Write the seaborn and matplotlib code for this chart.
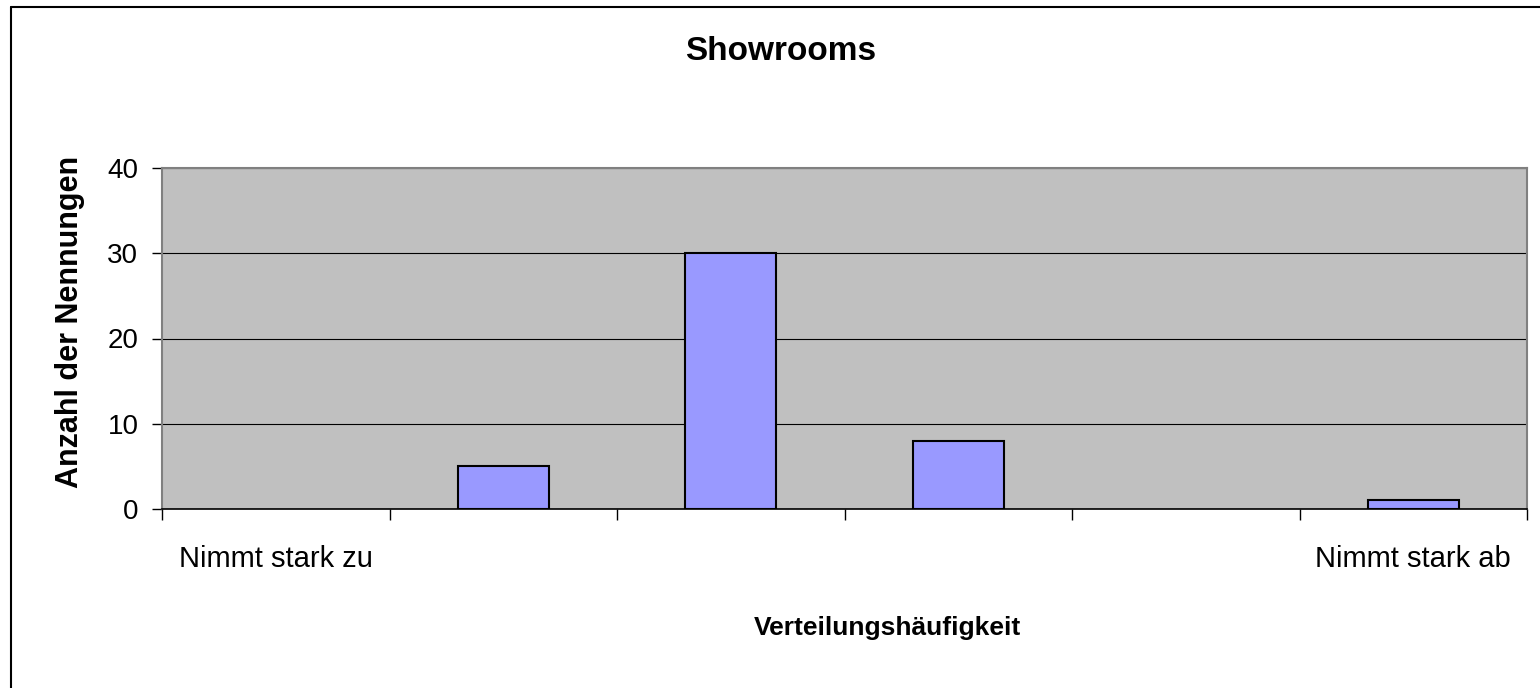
import matplotlib
matplotlib.use("Agg")
import matplotlib.pyplot as plt
import seaborn as sns
import pandas as pd
from matplotlib.lines import Line2D
from matplotlib.ticker import FixedLocator

categories = ["Nimmt stark zu", "2", "3", "4", "5", "Nimmt stark ab"]
tick_labels = ["Nimmt stark zu", "", "", "", "", "Nimmt stark ab"]
values = [0, 5, 30, 8, 0, 1]
title = "Showrooms"
xlabel = "Verteilungshäufigkeit"
ylabel = "Anzahl der Nennungen"

sns.set_theme(style="white")
plt.rcParams['font.family'] = ['Liberation Sans', 'DejaVu Sans']
plt.rcParams['text.color'] = 'black'
plt.rcParams['xtick.color'] = 'black'
plt.rcParams['ytick.color'] = 'black'

W, H = 1540, 688
fig = plt.figure(figsize=(15.4, 6.88), dpi=100)
ax = fig.add_axes([162 / W, 1 - 509 / H, (1527 - 162) / W, (509 - 168) / H])
ax.set_facecolor("#C0C0C0")

df = pd.DataFrame({"cat": categories, "val": values})
sns.barplot(data=df, x="cat", y="val", order=categories, color="#9999FF",
            saturation=1, width=0.4, edgecolor="black", linewidth=1.5, ax=ax)
for p in ax.patches:
    if p.get_height() == 0:
        p.set_linewidth(0)

ax.set_xlim(-0.5, len(categories) - 0.5)
ax.set_ylim(0, 40)
ax.set_yticks([0, 10, 20, 30, 40])
ax.yaxis.grid(True, color="black", linewidth=0.8)
ax.set_axisbelow(True)

ax.set_xticks(range(len(categories)))
ax.set_xticklabels(tick_labels)
ax.xaxis.set_minor_locator(FixedLocator([i - 0.5 for i in range(len(categories) + 1)]))
ax.tick_params(axis="x", which="major", length=0, pad=26, labelsize=21, labelcolor="black")
ax.tick_params(axis="x", which="minor", length=8, width=1, color="black", direction="out", bottom=True)
ax.tick_params(axis="y", which="major", length=7, width=1, color="black", direction="out",
               left=True, labelsize=20, pad=10, labelcolor="black")

for s in ["left", "top", "right"]:
    ax.spines[s].set_color("#808080")
    ax.spines[s].set_linewidth(1.5)
ax.spines["bottom"].set_color("black")
ax.spines["bottom"].set_linewidth(1.2)

ax.set_xlabel("")
ax.set_ylabel("")

fig.text(781 / W, 1 - 51 / H, title, ha="center", va="center",
         fontsize=24, fontweight="bold")
fig.text(887 / W, 1 - 628 / H, xlabel, ha="center", va="center", fontsize=19, fontweight="bold")
fig.text(70 / W, 1 - 322 / H, ylabel, ha="center", va="center", rotation=90,
         fontsize=22, fontweight="bold")

fig.add_artist(Line2D([11 / W, 11 / W], [1 - 7 / H, 0], transform=fig.transFigure,
                      color="black", linewidth=1.5))
fig.add_artist(Line2D([11 / W, 1], [1 - 7 / H, 1 - 7 / H], transform=fig.transFigure,
                      color="black", linewidth=1.5))

fig.savefig("out.png", dpi=100, facecolor="white")
